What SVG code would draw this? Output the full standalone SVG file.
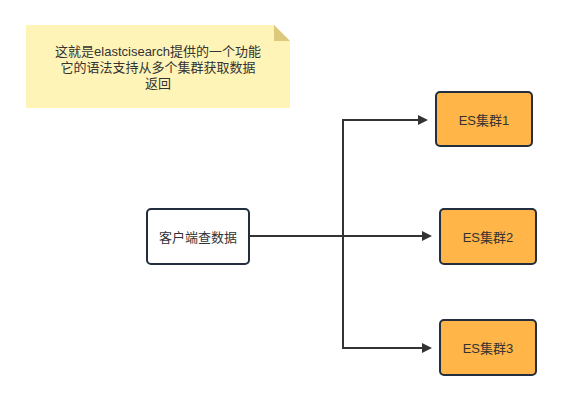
<svg xmlns="http://www.w3.org/2000/svg" width="561" height="400" viewBox="0 0 561 400">
<style>
.t{font-family:"Liberation Sans","Noto Sans CJK SC",sans-serif;font-size:13px;fill:#333;text-anchor:middle;dominant-baseline:central}
.es{fill:#ffb547;stroke:#232f3e;stroke-width:2}
.c{fill:none;stroke:#333;stroke-width:2}
</style>
<defs>
<marker id="a" markerWidth="10" markerHeight="10" refX="8" refY="5" orient="auto" markerUnits="userSpaceOnUse">
<path d="M0,0 L10,5 L0,10 Z" fill="#333"/>
</marker>
</defs>
<rect width="561" height="400" fill="#fff"/>
<g id="note">
<path d="M26,25 H274 L290,41 V108 H26 Z" fill="#fff4b8"/>
<path d="M274,25 L290,41 H274 Z" fill="#dcc97c"/>
<text class="t" x="158" y="51">这就是elastcisearch提供的一个功能</text>
<text class="t" x="158" y="67">它的语法支持从多个集群获取数据</text>
<text class="t" x="158" y="83">返回</text>
</g>
<g id="connectors">
<path class="c" d="M249,236 H343 V120 H426" marker-end="url(#a)"/>
<path class="c" d="M249,236 H430" marker-end="url(#a)"/>
<path class="c" d="M343,236 V348 H430" marker-end="url(#a)"/>
</g>
<g id="client">
<rect x="147" y="209" width="102" height="55" rx="4" fill="#fff" stroke="#232f3e" stroke-width="2"/>
<text class="t" x="198" y="237">客户端查数据</text>
</g>
<g id="es1">
<rect class="es" x="436" y="92" width="96" height="54" rx="4"/>
<text class="t" x="484" y="120">ES集群1</text>
</g>
<g id="es2">
<rect class="es" x="440" y="209" width="96" height="55" rx="4"/>
<text class="t" x="488" y="237">ES集群2</text>
</g>
<g id="es3">
<rect class="es" x="440" y="320" width="96" height="55" rx="4"/>
<text class="t" x="488" y="348">ES集群3</text>
</g>
</svg>
